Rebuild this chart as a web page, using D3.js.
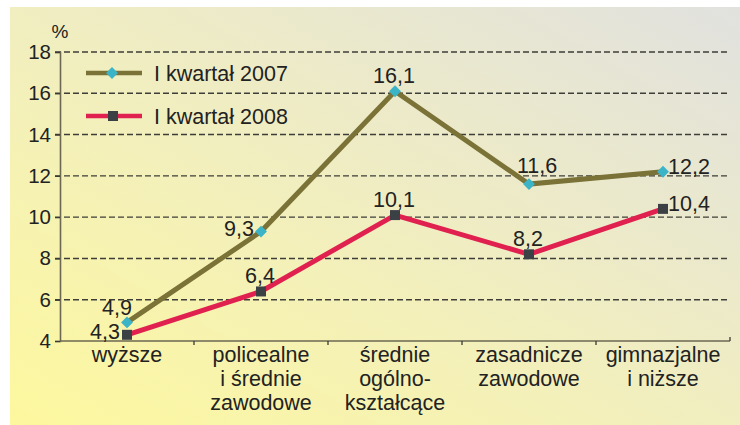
<!DOCTYPE html>
<html><head><meta charset="utf-8">
<script src="https://cdn.jsdelivr.net/npm/d3@7"></script>
<style>
html,body{margin:0;padding:0;background:#fff;}
text{font-family:"Liberation Sans",Arial,sans-serif;fill:#222;}
</style></head>
<body>
<svg id="chart" width="740" height="425"></svg>
<script>
const categories = [["wyższe"], ["policealne","i średnie","zawodowe"], ["średnie","ogólno-","kształcące"], ["zasadnicze","zawodowe"], ["gimnazjalne","i niższe"]];
const series2007 = [4.9, 9.3, 16.1, 11.6, 12.2];
const series2008 = [4.3, 6.4, 10.1, 8.2, 10.4];
const seriesNames = ["I kwartał 2007", "I kwartał 2008"];
const yTicks = [4, 6, 8, 10, 12, 14, 16, 18];
const labelPlace2007 = ["nw", "w", "n", "ne", "e"];
const labelPlace2008 = ["w", "n", "n", "n", "e"];

const svg = d3.select("#chart");
const W = 740, H = 425;
const M = {left: 60, right: 10, top: 52, bottom: 84};

// background gradient
const defs = svg.append("defs");
const grad = defs.append("linearGradient").attr("id", "bg")
  .attr("x1", "0").attr("y1", "1").attr("x2", "1").attr("y2", "0");
grad.append("stop").attr("offset", "0").attr("stop-color", "#fdf89e");
grad.append("stop").attr("offset", "0.45").attr("stop-color", "#f2efbd");
grad.append("stop").attr("offset", "1").attr("stop-color", "#e1e1df");
svg.append("rect").attr("x", 10).attr("y", 7).attr("width", 730).attr("height", 418).attr("fill", "url(#bg)");

const catKeys = categories.map(c => c.join(" "));
const x = d3.scaleBand().domain(catKeys).range([M.left, W - M.right]).padding(0);
const y = d3.scaleLinear().domain([4, 18]).range([H - M.bottom, M.top]);

// grid lines
const gridG = svg.append("g");
gridG.selectAll("line").data(yTicks.filter(t => t > 4)).join("line")
  .attr("x1", M.left - 5).attr("x2", W - M.right)
  .attr("y1", d => y(d)).attr("y2", d => y(d))
  .attr("stroke", "#3e3e38").attr("stroke-width", 1.4)
  .attr("stroke-dasharray", "6,3");

// y axis
const yAxis = d3.axisLeft(y).tickValues(yTicks).tickSize(5).tickPadding(4).tickFormat(d3.format("d"));
const yg = svg.append("g").attr("transform", `translate(${M.left},0)`).call(yAxis);
yg.select(".domain").attr("stroke", "#6b6752").attr("stroke-width", 1.6);
yg.selectAll(".tick line").attr("stroke", "#3a3a36").attr("stroke-width", 1.3);
yg.selectAll(".tick text").attr("font-size", 20.5).attr("fill", "#222").attr("font-family", "Liberation Sans, Arial, sans-serif");

// x axis
const boundaries = catKeys.map(k => x(k) + x.bandwidth());
const xg = svg.append("g").attr("transform", `translate(0,${y(4)})`);
xg.append("line").attr("x1", M.left).attr("x2", W - M.right).attr("stroke", "#6b6752").attr("stroke-width", 1.6);
xg.selectAll("line.tk").data(boundaries).join("line").attr("class", "tk")
  .attr("x1", d => d).attr("x2", d => d).attr("y1", 0).attr("y2", d => d >= W - M.right - 1 ? -4 : 4)
  .attr("stroke", "#3a3a36").attr("stroke-width", 1.3);
const catText = xg.selectAll("text.cat").data(categories).join("text").attr("class", "cat")
  .attr("text-anchor", "middle").attr("font-size", 21.5)
  .attr("x", (d, i) => x(catKeys[i]) + x.bandwidth() / 2).attr("y", 21);
catText.selectAll("tspan").data(d => d).join("tspan")
  .attr("x", function() { return d3.select(this.parentNode).attr("x"); })
  .attr("dy", (d, i) => i === 0 ? 0 : 24).text(d => d);

// % label
svg.append("text").attr("x", 60).attr("y", 38).attr("text-anchor", "middle").attr("font-size", 19).text("%");

// lines
const line = d3.line().x((d, i) => x(catKeys[i]) + x.bandwidth() / 2).y(d => y(d));
const col2007 = "#7a7236", col2008 = "#e0214f";
svg.append("path").datum(series2007).attr("d", line).attr("fill", "none").attr("stroke", col2007).attr("stroke-width", 5).attr("stroke-linejoin", "miter");
svg.append("path").datum(series2008).attr("d", line).attr("fill", "none").attr("stroke", col2008).attr("stroke-width", 5).attr("stroke-linejoin", "miter");

const diamond = d3.symbol().type(d3.symbolDiamond2).size(90);
const square = d3.symbol().type(d3.symbolSquare).size(100);
const cx = i => x(catKeys[i]) + x.bandwidth() / 2;
svg.append("g").selectAll("path").data(series2007).join("path")
  .attr("d", diamond).attr("fill", "#3bb4c8")
  .attr("transform", (d, i) => `translate(${cx(i)},${y(d)})`);
svg.append("g").selectAll("path").data(series2008).join("path")
  .attr("d", square).attr("fill", "#3b4044")
  .attr("transform", (d, i) => `translate(${cx(i)},${y(d)})`);

// value labels
const place = {
  n:  {dx: -1, dy: -8, a: "middle"},
  nw: {dx: -10, dy: -7, a: "middle"},
  ne: {dx: 8, dy: -11, a: "middle"},
  w:  {dx: -7, dy: 4, a: "end"},
  e:  {dx: 5, dy: 2, a: "start"}
};
const fmt = v => d3.format(".1f")(v).replace(".", ",");
function labels(data, places) {
  svg.append("g").selectAll("text").data(data).join("text")
    .attr("font-size", 21.5)
    .attr("text-anchor", (d, i) => place[places[i]].a)
    .attr("x", (d, i) => cx(i) + place[places[i]].dx)
    .attr("y", (d, i) => y(d) + place[places[i]].dy)
    .text(fmt);
}
labels(series2007, labelPlace2007);
labels(series2008, labelPlace2008);

// legend
const leg = svg.append("g");
const legY = [73, 116];
const legCols = [col2007, col2008];
seriesNames.forEach((name, i) => {
  leg.append("line").attr("x1", 86).attr("x2", 142).attr("y1", legY[i]).attr("y2", legY[i])
    .attr("stroke", legCols[i]).attr("stroke-width", 4.5);
  leg.append("path").attr("d", i === 0 ? diamond() : square())
    .attr("fill", i === 0 ? "#3bb4c8" : "#3b4044")
    .attr("transform", `translate(${i === 0 ? 112 : 113},${legY[i]})`);
  leg.append("text").attr("x", 154).attr("y", legY[i] + 8).attr("font-size", 21.5).text(name);
});
</script>
</body></html>
